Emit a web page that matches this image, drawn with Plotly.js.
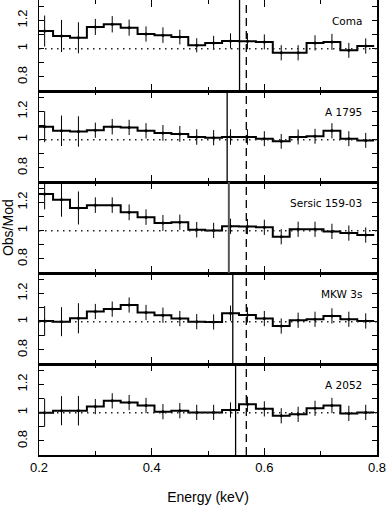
<!DOCTYPE html>
<html>
<head>
<meta charset="utf-8">
<script src="https://cdn.plot.ly/plotly-3.0.1.min.js"></script>
<style>
  body { margin: 0; background: #fff; }
  #chart { width: 387px; height: 506px; }
</style>
</head>
<body>
<div id="chart"></div>
<script>
const energy = [0.21, 0.24, 0.27, 0.30, 0.33, 0.36, 0.39, 0.42, 0.45, 0.48,
                0.51, 0.54, 0.57, 0.60, 0.63, 0.66, 0.69, 0.72, 0.75, 0.78];
const binHalf = 0.015;

const clusters = ["Coma", "A 1795", "Sersic 159-03", "MKW 3s", "A 2052"];

const coma = [1.125, 1.09, 1.077, 1.154, 1.173, 1.149, 1.104, 1.096, 1.082, 1.024,
              1.041, 1.055, 1.053, 1.048, 0.971, 0.971, 1.041, 1.048, 0.988, 1.019];
const a1795 = [1.092, 1.063, 1.058, 1.067, 1.092, 1.087, 1.063, 1.048, 1.041, 1.019,
               1.014, 1.019, 1.019, 1.007, 0.988, 1.019, 1.024, 1.063, 1.007, 0.995];
const sersic = [1.26, 1.219, 1.161, 1.181, 1.181, 1.13, 1.096, 1.055, 1.06, 1.007,
                1.002, 1.031, 1.029, 1.024, 0.957, 1.01, 1.01, 0.995, 0.983, 0.969];
const mkw3s = [1.005, 1.0, 1.024, 1.072, 1.089, 1.118, 1.065, 1.046, 1.022, 1.0,
               0.998, 1.06, 1.048, 1.022, 0.969, 1.01, 1.017, 1.041, 1.017, 1.005];
const a2052 = [1.0, 1.014, 1.014, 1.043, 1.084, 1.072, 1.051, 1.007, 1.014, 1.002,
               1.002, 1.019, 1.06, 1.027, 0.978, 0.988, 1.031, 1.051, 0.995, 1.002];
const ratios = [coma, a1795, sersic, mkw3s, a2052];

const errors = [
    [0.11, 0.114, 0.11, 0.057, 0.058, 0.057, 0.054, 0.055, 0.052, 0.05, 0.05, 0.054, 0.057, 0.053, 0.054, 0.054, 0.054, 0.057, 0.053, 0.054],
    [0.11, 0.108, 0.108, 0.054, 0.055, 0.054, 0.054, 0.056, 0.056, 0.055, 0.054, 0.055, 0.055, 0.053, 0.052, 0.053, 0.053, 0.054, 0.053, 0.053],
    [0.109, 0.12, 0.117, 0.055, 0.055, 0.056, 0.055, 0.056, 0.054, 0.055, 0.054, 0.054, 0.054, 0.054, 0.054, 0.054, 0.054, 0.054, 0.054, 0.054],
    [0.106, 0.103, 0.107, 0.054, 0.054, 0.054, 0.054, 0.054, 0.054, 0.054, 0.054, 0.054, 0.054, 0.054, 0.054, 0.054, 0.054, 0.054, 0.054, 0.054],
    [0.1, 0.103, 0.105, 0.054, 0.054, 0.054, 0.054, 0.054, 0.054, 0.054, 0.054, 0.054, 0.054, 0.054, 0.054, 0.054, 0.054, 0.054, 0.054, 0.054]
];

// position of the solid line in each panel, dashed line is the same everywhere
const solidLine = [0.556, 0.534, 0.537, 0.544, 0.549];
const dashedLine = 0.568;

const font = 'Liberation Sans, Arial, sans-serif';
const labelFont = 'DejaVu Sans, sans-serif';
const traces = [];
const shapes = [];
const annotations = [];
const layout = {
    width: 387,
    height: 506,
    margin: {l: 39, r: 10, t: 0, b: 51},
    paper_bgcolor: 'white',
    plot_bgcolor: 'white',
    showlegend: false,
    font: {family: font, size: 12, color: 'black'},
};

for (let i = 0; i < 5; i++) {
    const n = i === 0 ? '' : String(i + 1);
    const vals = ratios[i];
    const stepX = energy.map(e => e - binHalf).concat([energy[energy.length - 1] + binHalf]);
    const stepY = vals.concat([vals[vals.length - 1]]);

    traces.push({
        x: stepX, y: stepY, xaxis: 'x' + n, yaxis: 'y' + n,
        mode: 'lines', line: {shape: 'hv', color: 'black', width: 2},
        hoverinfo: 'skip',
    });
    traces.push({
        x: energy, y: vals, xaxis: 'x' + n, yaxis: 'y' + n,
        mode: 'markers', marker: {color: 'black', size: 3},
        error_y: {type: 'data', array: errors[i], visible: true, width: 0, thickness: 1, color: 'black'},
    });

    layout['xaxis' + n] = {
        domain: [0, 1], anchor: 'y' + n, range: [0.2, 0.8],
        tick0: 0.2, dtick: 0.2, ticks: 'inside', ticklen: 7, tickcolor: 'black',
        minor: {dtick: 0.1, ticks: 'inside', ticklen: 4, tickcolor: 'black'},
        mirror: 'allticks', showline: true, linecolor: 'black', linewidth: 1.5,
        showgrid: false, zeroline: false,
        showticklabels: i === 4, tickfont: {size: 13},
    };
    layout['yaxis' + n] = {
        domain: [1 - (i + 1) / 5, 1 - i / 5], anchor: 'x' + n, range: [0.7, 1.345],
        tickvals: [0.8, 1, 1.2], ticktext: ['0.8', '1', '1.2'], tickangle: -90,
        ticks: 'inside', ticklen: 5, tickcolor: 'black',
        minor: {dtick: 0.1, ticks: 'inside', ticklen: 5, tickcolor: 'black'},
        mirror: 'allticks', showline: true, linecolor: 'black', linewidth: 1.5,
        showgrid: false, zeroline: false, tickfont: {size: 13},
        ticklabelstandoff: 5,
    };

    shapes.push({type: 'line', xref: 'x' + n, yref: 'y' + n, x0: 0.2, x1: 0.8, y0: 1, y1: 1,
        line: {color: '#222', width: 1.5, dash: '1.5px,4.5px'}});
    shapes.push({type: 'line', xref: 'x' + n, yref: 'y' + n + ' domain', x0: solidLine[i], x1: solidLine[i], y0: 0, y1: 1,
        line: {color: i === 2 ? '#555' : 'black', width: i === 2 ? 2 : 1.3}});
    shapes.push({type: 'line', xref: 'x' + n, yref: 'y' + n + ' domain', x0: dashedLine, x1: dashedLine, y0: 0, y1: 1,
        line: {color: 'black', width: 1.3, dash: '8px,5px'}});

    annotations.push({xref: 'x' + n, yref: 'y' + n, x: 0.777, y: 1.195, xanchor: 'right', yanchor: 'middle',
        text: clusters[i], showarrow: false, font: {size: 10.5, family: labelFont}});
}

layout.xaxis5.title = {text: 'Energy (keV)', font: {size: 14}, standoff: 18};
annotations.push({xref: 'paper', yref: 'paper', x: -0.093, y: 0.5, xanchor: 'center', yanchor: 'middle',
    text: 'Obs/Mod', textangle: -90, showarrow: false, font: {size: 14, family: font}});

layout.shapes = shapes;
layout.annotations = annotations;

Plotly.newPlot('chart', traces, layout, {displayModeBar: false, staticPlot: true});
</script>
</body>
</html>
